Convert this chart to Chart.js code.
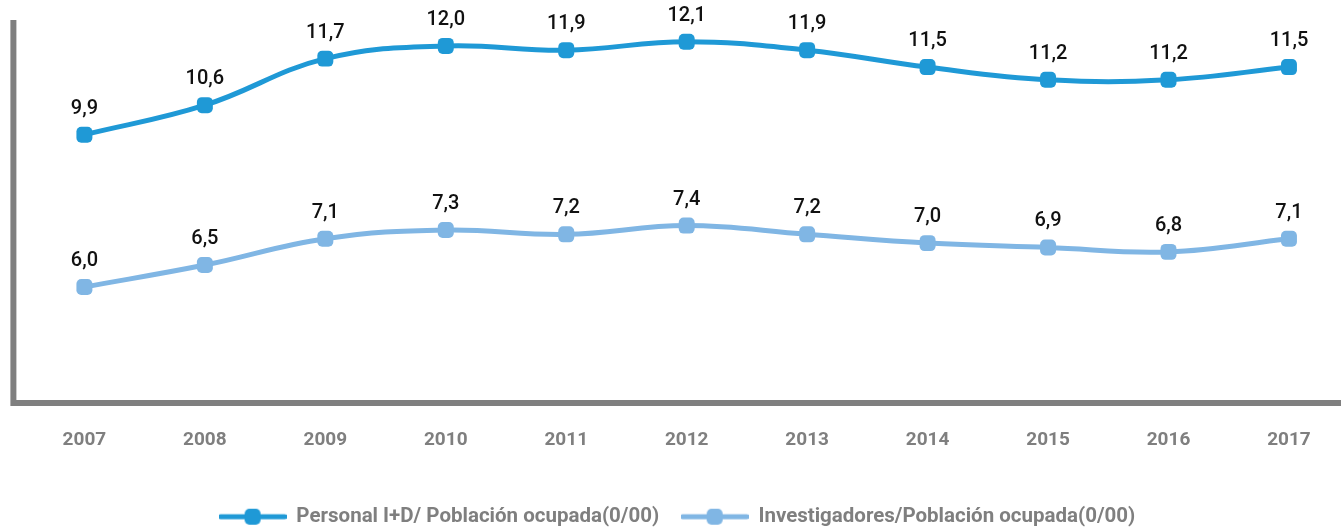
<!DOCTYPE html>
<html>
<head>
<meta charset="utf-8">
<script src="https://cdn.jsdelivr.net/npm/chart.js@4"></script>
<style>
html,body{margin:0;padding:0;background:#ffffff;}
#wrap{width:1341px;height:527px;position:relative;}
</style>
</head>
<body>
<div id="wrap"><canvas id="c"></canvas></div>
<script>
// ---- data ----
const years = [2007, 2008, 2009, 2010, 2011, 2012, 2013, 2014, 2015, 2016, 2017];
const personalID = [9.9, 10.6, 11.7, 12.0, 11.9, 12.1, 11.9, 11.5, 11.2, 11.2, 11.5];
const investigadores = [6.0, 6.5, 7.1, 7.3, 7.2, 7.4, 7.2, 7.0, 6.9, 6.8, 7.1];
const seriesNames = ['Personal I+D/ Población ocupada(0/00)', 'Investigadores/Población ocupada(0/00)'];

// ---- styles ----
const seriesColors = ['#1F99D6', '#80B6E4'];
const axisColor = '#7f7f7f';

function legendImage(color) {
  const cv = document.createElement('canvas');
  cv.width = 68; cv.height = 20;
  const ctx = cv.getContext('2d');
  ctx.strokeStyle = color;
  ctx.lineWidth = 5;
  ctx.lineCap = 'round';
  ctx.beginPath();
  ctx.moveTo(2, 10); ctx.lineTo(66, 10);
  ctx.stroke();
  ctx.fillStyle = color;
  Chart.helpers.drawPoint(ctx, {pointStyle: 'rectRounded', radius: 9.3, borderWidth: 0, rotation: 0}, 34, 10);
  return cv;
}

const axisLines = {
  id: 'axisLines',
  beforeDatasetsDraw(chart) {
    const {ctx, chartArea: a} = chart;
    ctx.save();
    ctx.strokeStyle = axisColor;
    ctx.lineWidth = 6;
    ctx.beginPath();
    ctx.moveTo(a.left, a.top);
    ctx.lineTo(a.left, a.bottom);
    ctx.moveTo(a.left - 3, a.bottom);
    ctx.lineTo(a.right, a.bottom);
    ctx.stroke();
    ctx.restore();
  }
};

const valueLabels = {
  id: 'valueLabels',
  afterDatasetsDraw(chart) {
    const {ctx} = chart;
    ctx.save();
    ctx.font = '500 20px Roboto';
    ctx.fillStyle = '#111111';
    ctx.textAlign = 'center';
    ctx.textBaseline = 'middle';
    chart.data.datasets.forEach((ds, di) => {
      const meta = chart.getDatasetMeta(di);
      meta.data.forEach((pt, i) => {
        const v = ds.data[i].y;
        ctx.fillText(v.toFixed(1).replace('.', ','), pt.x, pt.y - 26);
      });
    });
    ctx.restore();
  }
};

const series = [personalID, investigadores];

new Chart(document.getElementById('c'), {
  type: 'line',
  data: {
    datasets: series.map((vals, si) => ({
      label: seriesNames[si],
      data: years.map((yr, i) => ({x: yr, y: vals[i]})),
      borderColor: seriesColors[si],
      backgroundColor: seriesColors[si],
      borderWidth: 5,
      tension: 0.4,
      pointStyle: 'rectRounded',
      pointRadius: 9.3,
      pointHoverRadius: 9.3,
      pointBorderWidth: 0,
      clip: false,
      yAxisID: si === 0 ? 'y' : 'y2'
    }))
  },
  options: {
    responsive: true,
    maintainAspectRatio: false,
    animation: false,
    events: [],
    layout: {autoPadding: false, padding: {top: 20, left: 13.4, right: 0, bottom: -10}},
    scales: {
      x: {
        type: 'linear',
        min: 2006.4105,
        max: 2017.432,
        grid: {display: false, drawTicks: false},
        border: {display: false},
        afterBuildTicks: (scale) => { scale.ticks = years.map(v => ({value: v})); },
        afterFit: (scale) => { scale.paddingLeft = 0; scale.paddingRight = 0; },
        title: {display: true, text: ' ', font: {size: 1, lineHeight: 1}, padding: {top: 0, bottom: 5.9}},
        ticks: {
          autoSkip: false,
          maxRotation: 0,
          padding: 10,
          color: axisColor,
          font: {family: 'Roboto', size: 19, weight: 'bold', lineHeight: 2.874},
          callback: (v) => String(v)
        }
      },
      y: {display: false, min: 3.56, max: 12.613},
      y2: {display: false, min: 3.354, max: 12.088}
    },
    plugins: {
      tooltip: {enabled: false},
      legend: {
        position: 'bottom',
        labels: {
          usePointStyle: true,
          pointStyleWidth: 67,
          padding: 22,
          color: axisColor,
          font: {family: 'Roboto', size: 20.5, weight: 'bold'},
          generateLabels: (chart) => chart.data.datasets.map((ds, i) => ({
            text: ds.label,
            pointStyle: legendImage(seriesColors[i]),
            fillStyle: seriesColors[i],
            strokeStyle: 'rgba(0,0,0,0)',
            lineWidth: 0,
            hidden: false,
            datasetIndex: i,
            fontColor: axisColor
          }))
        }
      }
    }
  },
  plugins: [axisLines, valueLabels]
});
</script>
</body>
</html>
